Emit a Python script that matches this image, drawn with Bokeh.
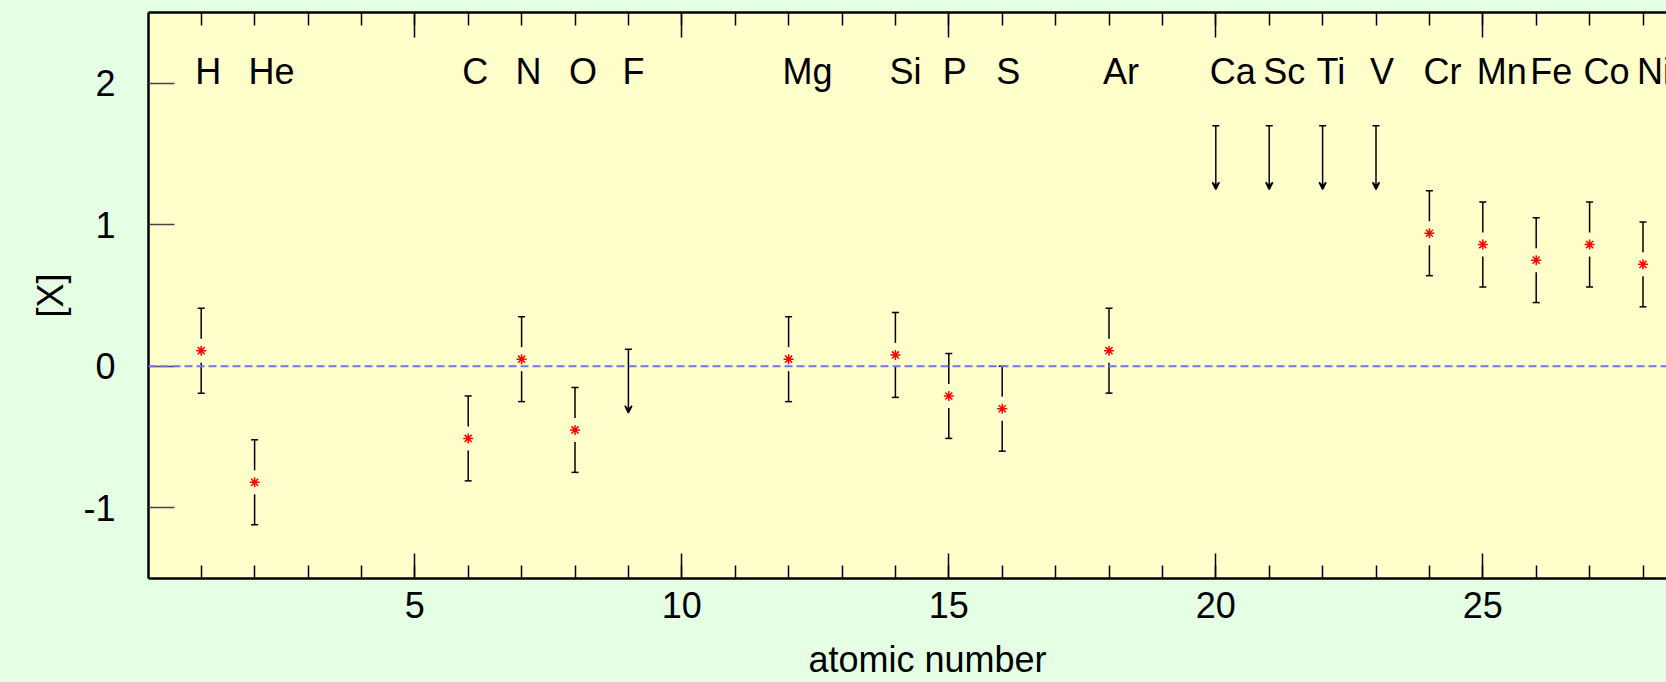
from bokeh.plotting import figure
from bokeh.models import (FixedTicker, LinearAxis, Span, Arrow, VeeHead, Label,
                          ColumnDataSource, Range1d, GlobalInlineStyleSheet,
                          CustomJSTickFormatter)
from bokeh.core.properties import value
from bokeh.embed import file_html
from bokeh.resources import INLINE

# ---- data ----
elem_z = [1, 2, 6, 7, 8, 12, 14, 15, 16, 18, 24, 25, 26, 27, 28]
elem_sym = ["H", "He", "C", "N", "O", "Mg", "Si", "P", "S", "Ar", "Cr", "Mn", "Fe", "Co", "Ni"]
abund = [0.11, -0.82, -0.51, 0.05, -0.45, 0.05, 0.08, -0.21, -0.30, 0.11, 0.94, 0.86, 0.75, 0.86, 0.72]
abund_err = [0.30] * 15

# upper limits
lim_z = [9, 20, 21, 22, 23]
lim_sym = ["F", "Ca", "Sc", "Ti", "V"]
lim_val = [0.12, 1.70, 1.70, 1.70, 1.70]

x_major = [5, 10, 15, 20, 25]
x_minor = list(range(1, 29))
y_major = [-1, 0, 1, 2]
y_labels = {-1: "-1", 0: "0", 1: "1", 2: "2"}

FONT = "Liberation Sans"
FS = "36px"
GREEN = "#E4FFE4"
YELLOW = "#FFFFCC"

gap = 12 / 141.5        # gap around the star (data units)
arrow_len = 0.45        # length of upper-limit arrows (data units)

p = figure(width=1666, height=682,
           x_range=Range1d(0.013, 28.44), y_range=Range1d(-1.5, 2.5),
           output_backend="svg", toolbar_location=None,
           min_border_left=148, min_border_right=0,
           min_border_top=12, min_border_bottom=104,
           background_fill_color=YELLOW, border_fill_color=GREEN,
           outline_line_color=None)
p.stylesheets = [GlobalInlineStyleSheet(css="body { background-color: %s; }" % GREEN)]
p.xgrid.visible = False
p.ygrid.visible = False

# bottom axis
xa = p.xaxis[0]
xa.ticker = FixedTicker(ticks=x_major, minor_ticks=x_minor)
xa.major_tick_in = 25
xa.major_tick_out = 0
xa.minor_tick_in = 13
xa.minor_tick_out = 0
xa.major_tick_line_width = 1.5
xa.minor_tick_line_width = 1.5
xa.axis_line_width = 2.5
xa.major_label_text_font = FONT
xa.major_label_text_font_size = FS
xa.major_label_text_color = "black"
xa.major_label_standoff = 13

# x-axis title, in the bottom panel (canvas pixels)
p.add_layout(Label(x=927, y=659, x_units="canvas", y_units="canvas",
                   text="atomic number", text_align="center",
                   text_baseline="alphabetic", text_font=FONT, text_font_size=FS,
                   text_color="black"), "below")

# top axis (ticks only)
ta = LinearAxis(ticker=FixedTicker(ticks=x_major, minor_ticks=x_minor),
                formatter=CustomJSTickFormatter(code="return ''"),
                major_tick_in=25, major_tick_out=0,
                minor_tick_in=13, minor_tick_out=0,
                major_tick_line_width=1.5, minor_tick_line_width=1.5,
                axis_line_width=2.5, major_label_standoff=0)
p.add_layout(ta, "above")

# left axis
ya = p.yaxis[0]
ya.ticker = FixedTicker(ticks=y_major)
ya.major_label_overrides = y_labels
ya.major_tick_in = 26
ya.major_tick_out = 0
ya.minor_tick_in = 0
ya.minor_tick_out = 0
ya.major_tick_line_color = "#444444"
ya.major_tick_line_width = 1.5
ya.axis_line_width = 2.5
ya.major_label_text_font = FONT
ya.major_label_text_font_size = FS
ya.major_label_text_color = "black"
ya.major_label_standoff = 33
ya.axis_label = "[X]"
ya.axis_label_text_font = FONT
ya.axis_label_text_font_size = FS
ya.axis_label_text_font_style = "normal"
ya.axis_label_text_color = "black"
ya.axis_label_standoff = 9

# solar reference line
p.add_layout(Span(location=0, dimension="width", line_color="#7373EE",
                  line_dash="8 4", line_width=2))

# error bars with a gap around the star
up0 = [v + gap for v in abund]
up1 = [v + e for v, e in zip(abund, abund_err)]
lo0 = [v - e for v, e in zip(abund, abund_err)]
lo1 = [v - gap for v in abund]
p.segment(x0=elem_z, y0=up0, x1=elem_z, y1=up1, line_color="black", line_width=1.5)
p.segment(x0=elem_z, y0=lo0, x1=elem_z, y1=lo1, line_color="black", line_width=1.5)
p.scatter(x=elem_z, y=up1, marker="dash", size=7, line_color="black", line_width=1.5)
p.scatter(x=elem_z, y=lo0, marker="dash", size=7, line_color="black", line_width=1.5)
p.scatter(x=elem_z, y=abund, marker="asterisk", size=10, line_color="red", line_width=1.5)

# upper limits
p.scatter(x=lim_z, y=lim_val, marker="dash", size=7, line_color="black", line_width=1.5)
lim_src = ColumnDataSource(dict(x0=lim_z, y0=lim_val, x1=lim_z,
                                y1=[v - arrow_len for v in lim_val]))
p.add_layout(Arrow(source=lim_src, x_start="x0", y_start="y0", x_end="x1", y_end="y1",
                   line_color="black", line_width=1.5,
                   end=VeeHead(size=7, line_color="black", line_width=1.5,
                               fill_color="black")))

# element names
all_z = elem_z + lim_z
all_sym = elem_sym + lim_sym
p.text(x=all_z, y=[2] * len(all_z), text=all_sym,
       text_font=value(FONT), text_font_size=value(FS), text_color="black",
       text_align="left", text_baseline="alphabetic", x_offset=-6, y_offset=-12)

open("out.html", "w").write(file_html(p, INLINE))
